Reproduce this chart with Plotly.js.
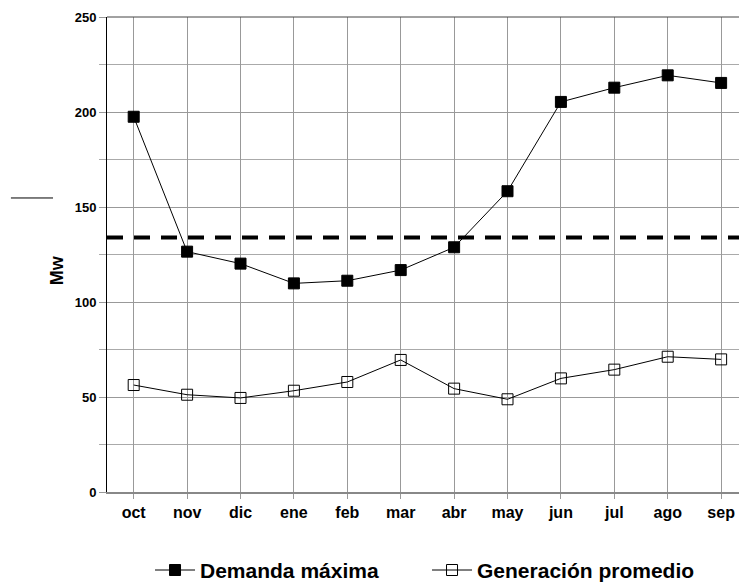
<!DOCTYPE html>
<html>
<head>
<meta charset="utf-8">
<script src="https://cdn.plot.ly/plotly-3.0.1.min.js"></script>
<style>html,body{margin:0;padding:0;background:#fff;}#chart{width:739px;height:582px;}</style>
</head>
<body>
<div id="chart"></div>
<script>
const meses = ["oct","nov","dic","ene","feb","mar","abr","may","jun","jul","ago","sep"];
const demandaMaxima = [197.5,126.5,120.2,109.8,111.2,116.8,128.8,158.3,205.3,212.8,219.3,215.3];
const generacionPromedio = [56.3,51.2,49.5,53.3,57.9,69.5,54.4,48.8,59.8,64.4,71.2,69.8];
const umbral = 134;
const yTicks = [0,50,100,150,200,250];
const yTitulo = "Mw";

const FONT = "Liberation Sans, Arial, sans-serif";

const traces = [
  {
    x: meses, y: demandaMaxima, name: "Demanda máxima", type: "scatter", mode: "lines+markers",
    line: {color: "#000", width: 1},
    marker: {symbol: "square", size: 11, color: "#000", line: {color: "#000", width: 1}}
  },
  {
    x: meses, y: generacionPromedio, name: "Generación promedio", type: "scatter", mode: "lines+markers",
    line: {color: "#000", width: 1},
    marker: {symbol: "square-open", size: 11, color: "#000", line: {color: "#000", width: 1}}
  }
];

const layout = {
  width: 739, height: 582,
  margin: {l: 107, r: 0, t: 17, b: 90},
  paper_bgcolor: "#fff", plot_bgcolor: "#fff",
  font: {family: FONT, color: "#000"},
  showlegend: true,
  legend: {
    orientation: "h", xref: "container", x: 0.203, xanchor: "left",
    yref: "container", y: 0.02, yanchor: "middle",
    font: {family: FONT, size: 21, color: "#000", weight: "bold"},
    itemwidth: 40,
    entrywidth: 222, entrywidthmode: "pixels", tracegroupgap: 0
  },
  xaxis: {
    type: "category", range: [-0.5, 11.335],
    showgrid: true, gridcolor: "#999", gridwidth: 1,
    showline: true, linecolor: "#888", linewidth: 2,
    ticks: "outside", ticklen: 5, tickcolor: "#999",
    tickfont: {family: FONT, size: 16, color: "#000", weight: "bold"},
    zeroline: false, fixedrange: true
  },
  yaxis: {
    range: [0, 250], tickvals: yTicks, ticktext: yTicks.map(String),
    showgrid: true, gridcolor: "#999", gridwidth: 1,
    minor: {dtick: 25, tick0: 0, showgrid: true, gridcolor: "#aaa", gridwidth: 1, ticks: "outside", ticklen: 7, tickcolor: "#aaa"},
    showline: true, linecolor: "#000", linewidth: 1,
    ticks: "outside", ticklen: 7, tickcolor: "#999",
    tickfont: {family: FONT, size: 13, color: "#000", weight: "bold"},
    zeroline: false, fixedrange: true
  },
  annotations: [
    {text: yTitulo, xref: "paper", yref: "paper", x: -0.079, y: 0.467, xanchor: "center", yanchor: "middle",
     textangle: -90, showarrow: false, font: {family: FONT, size: 18, color: "#000", weight: "bold"}}
  ],
  shapes: [
    {type: "line", xref: "paper", x0: 0, x1: 1, yref: "y", y0: umbral, y1: umbral,
     line: {color: "#000", width: 4, dash: "16px,11px"}},
    {type: "line", xref: "paper", x0: 0, x1: 1, yref: "paper", y0: 1, y1: 1,
     line: {color: "#444", width: 1}},
    {type: "line", xref: "paper", x0: -0.152, x1: -0.0854, yref: "paper", y0: 0.619, y1: 0.619,
     line: {color: "#000", width: 1}}
  ]
};

Plotly.newPlot("chart", traces, layout, {displayModeBar: false, staticPlot: true});
</script>
</body>
</html>
